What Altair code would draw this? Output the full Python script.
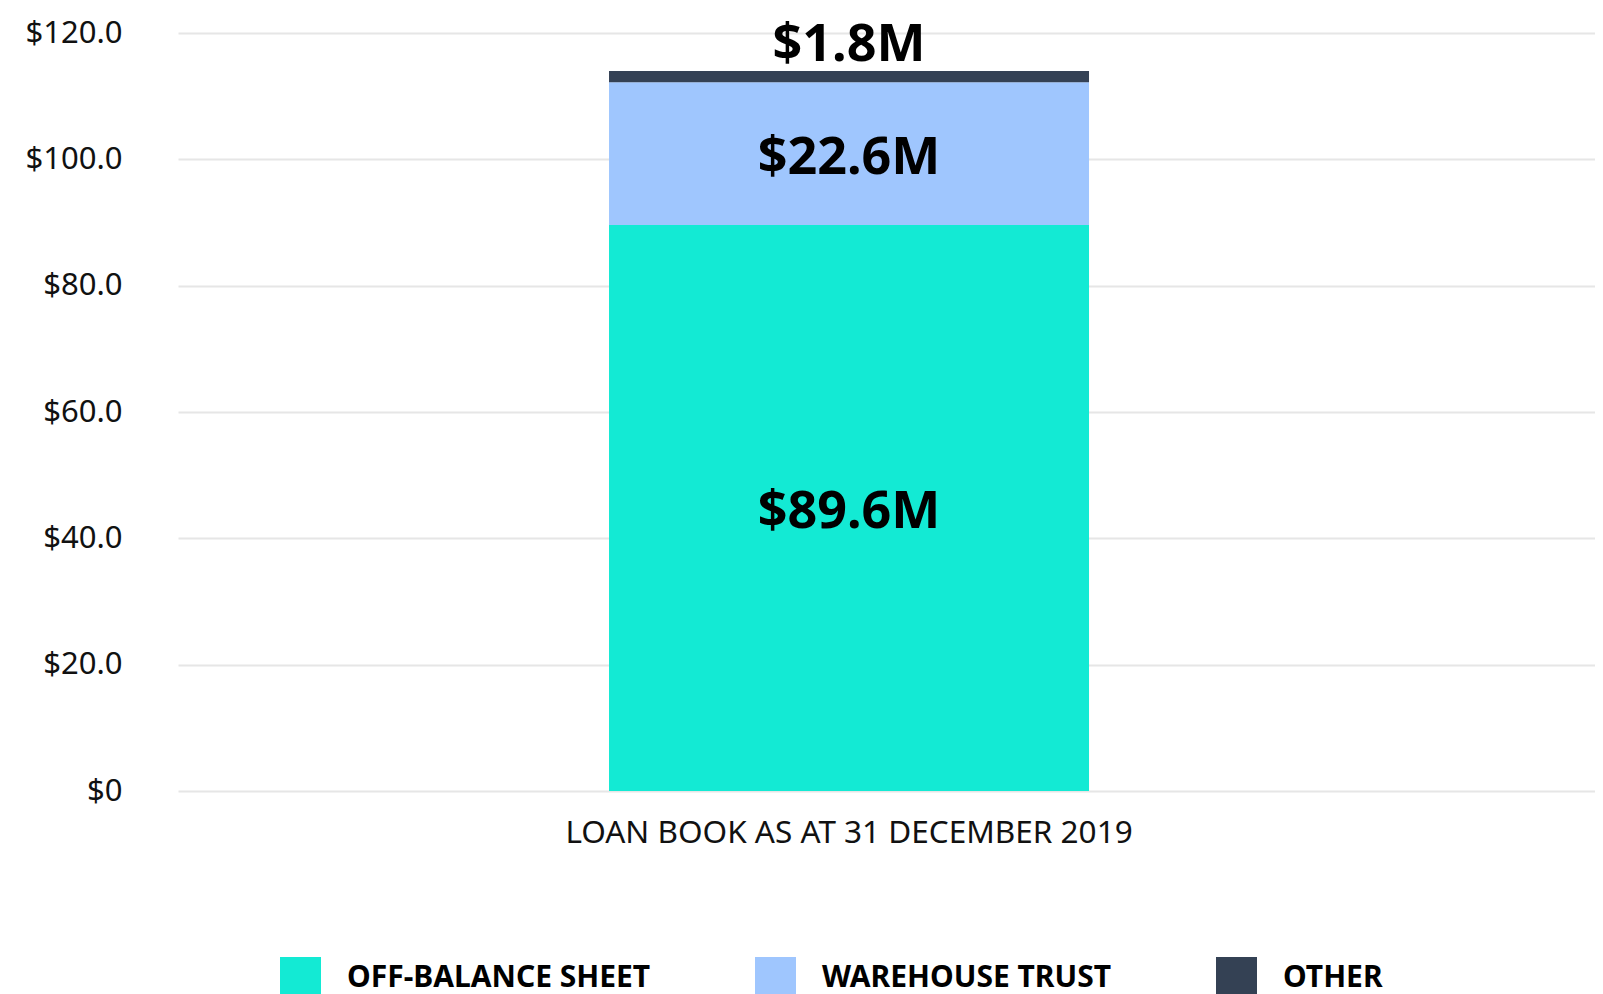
import altair as alt
import pandas as pd

# ---- data ----
categories = ["LOAN BOOK AS AT 31 DECEMBER 2019"]
series = ["OFF-BALANCE SHEET", "WAREHOUSE TRUST", "OTHER"]
values = [89.6, 22.6, 1.8]
labels = ["$89.6M", "$22.6M", "$1.8M"]
colors = ["#13EAD4", "#9FC6FE", "#344154"]
y_ticks = [0, 20, 40, 60, 80, 100, 120]

df = pd.DataFrame({
    "category": categories * len(series),
    "series": series,
    "value": values,
    "label": labels,
    "order": list(range(len(series))),
})
df["end"] = df["value"].cumsum()
df["start"] = df["end"] - df["value"]
df["mid"] = (df["start"] + df["end"]) / 2
df["inside"] = [True, True, False]

FONT = "Noto Sans"
yscale = alt.Scale(domain=[0, 120], nice=False, zero=True)
yaxis = alt.Axis(
    values=y_ticks,
    labelExpr="datum.value == 0 ? '$0' : '$' + format(datum.value, '.1f')",
    labelFontSize=31, labelFont=FONT, labelColor="#111111",
    labelPadding=56, ticks=False, tickSize=0, domain=False,
    grid=True, gridColor="#e6e6e6", gridWidth=2,
)

x = alt.X(
    "category:N",
    title=None,
    scale=alt.Scale(paddingInner=0, paddingOuter=0.5, align=0.4471),
    axis=alt.Axis(
        labelAngle=0, labelFontSize=31.5, labelFont=FONT, labelColor="#111111",
        labelPadding=26, ticks=False, domain=False, grid=False, labelLimit=0,
    ),
)

base = alt.Chart(df).encode(x=x)

bars = base.mark_bar(size=480).encode(
    y=alt.Y("start:Q", scale=yscale, title=None, axis=yaxis),
    y2="end:Q",
    color=alt.Color(
        "series:N",
        scale=alt.Scale(domain=series, range=colors),
        legend=alt.Legend(
            title=None, orient="none", legendX=102, legendY=924,
            direction="horizontal", columns=3, gridAlign="each",
            symbolType="square", symbolSize=1681, symbolStrokeWidth=0,
            symbolOpacity=1,
            labelFontSize=30, labelFont=FONT, labelFontWeight="bold",
            labelColor="#000000", labelOffset=26, columnPadding=104,
            padding=0, labelLimit=0,
        ),
    ),
    order=alt.Order("order:Q"),
)

inside_text = base.transform_filter("datum.inside").mark_text(
    fontSize=52, fontWeight="bold", font=FONT, color="#000000",
    baseline="middle", dy=4,
).encode(y=alt.Y("mid:Q", scale=yscale, title=None, axis=yaxis), text="label:N")

top_text = base.transform_filter("!datum.inside").mark_text(
    fontSize=52, fontWeight="bold", font=FONT, color="#000000",
    baseline="alphabetic", dy=-10,
).encode(y=alt.Y("end:Q", scale=yscale, title=None, axis=yaxis), text="label:N")

chart = alt.layer(bars, inside_text, top_text).properties(
    width=1417,
    height=758,
    padding={"left": 170, "top": 25, "right": 0, "bottom": 211},
    autosize="none",
).configure_view(stroke=None)

chart.save("out.html", embed_options={"renderer": "svg", "actions": False})
